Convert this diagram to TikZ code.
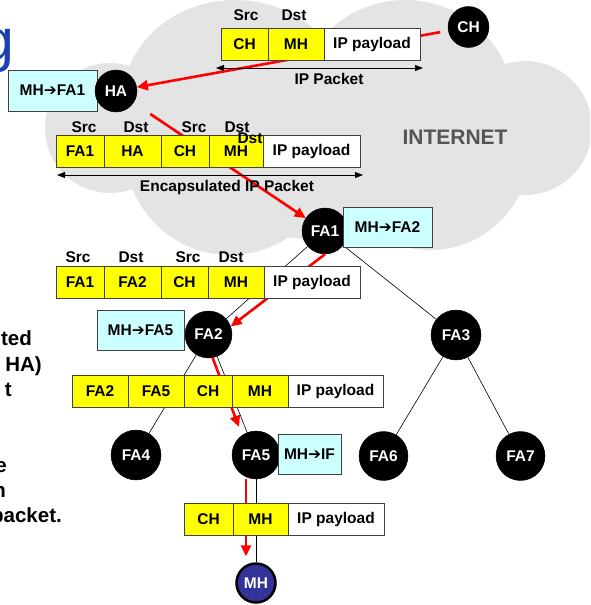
\documentclass[tikz,border=0pt]{standalone}
\usepackage{fontspec}
\setmainfont{Liberation Sans}
\newfontfamily\symfont{DejaVu Sans}
\usetikzlibrary{arrows.meta,calc}
\definecolor{cloudgray}{RGB}{228,228,228}
\definecolor{boxyellow}{RGB}{255,255,0}
\definecolor{boxcyan}{RGB}{204,255,255}
\definecolor{arrowred}{RGB}{255,0,0}
\definecolor{mhblue}{RGB}{51,51,153}
\definecolor{titleblue}{RGB}{28,64,176}
\definecolor{nettext}{RGB}{85,85,85}
\newcommand{\harr}{{\symfont\mdseries ➔}}
\tikzset{
  boxfont/.style={font=\bfseries\fontsize{15.5}{18}\selectfont},
  blob/.style={circle, fill=black, draw=black, text=white, inner sep=0pt, minimum size=46pt, boxfont},
  ybox/.style={draw=black!75, line width=0.75pt, fill=boxyellow, minimum height=32pt, inner sep=0pt, boxfont},
  wbox/.style={draw=black!75, line width=0.75pt, fill=white, minimum height=32pt, inner sep=0pt, boxfont},
  cbox/.style={draw=black!75, line width=0.75pt, fill=boxcyan, minimum height=40pt, inner sep=0pt, boxfont},
  lab/.style={inner sep=0pt, boxfont},
  tree/.style={draw=black, line width=0.6pt},
  redarrow/.style={draw=arrowred, line width=2.6pt, -{Triangle[length=11pt,width=10pt]}},
  dimarrow/.style={draw=black, line width=0.8pt, {Triangle[length=8pt,width=6pt]}-{Triangle[length=8pt,width=6pt]}},
  lefttext/.style={font=\bfseries\fontsize{20.5}{24}\selectfont, anchor=base east, inner sep=0pt}
}
\begin{document}
\begin{tikzpicture}[x=1pt,y=-1pt]
\useasboundingbox (0,0) rectangle (590,605);
\clip (0,0) rectangle (590,605);
% cloud
\fill[cloudgray] (110,128) circle (65pt);
\fill[cloudgray] (235,100) ellipse [x radius=112pt, y radius=100pt];
\fill[cloudgray] (405,110) ellipse [x radius=110pt, y radius=110pt];
\fill[cloudgray] (525,128) circle (67pt);
\fill[cloudgray] (430,150) circle (100pt);
\fill[cloudgray] (230,150) circle (105pt);
\fill[cloudgray] (330,140) ellipse [x radius=180pt, y radius=100pt];
% title fragment and side text
\node[anchor=base east, inner sep=0pt, text=titleblue, font=\fontsize{59}{66}\selectfont] (title) at (15,60) {g};
\node[lefttext] (t1) at (32,345) {ted};
\node[lefttext] (t2) at (42,371) {HA)};
\node[lefttext] (t3) at (12,396) {t};
\node[lefttext] (t4) at (7,472) {e};
\node[lefttext] (t5) at (6,497) {n};
\node[lefttext] (t6) at (62,522) {packet.};
% circles
\node[blob, minimum size=41pt] (CH) at (468.5,27) {CH};
\node[cbox, minimum width=89pt, minimum height=41pt] (r1) at (52.5,90.5) {MH\harr FA1};
\node[blob, minimum size=42pt] (HA) at (116,91) {HA};
\node[blob] (FA1) at (325,231) {FA1};
\node[blob, minimum size=47pt] (FA2) at (208.5,334.5) {FA2};
\node[blob, minimum size=50pt] (FA3) at (456,335) {FA3};
\node[blob, minimum size=50pt] (FA4) at (136,455) {FA4};
\node[blob, minimum size=48pt] (FA5) at (256,455) {FA5};
\node[blob, minimum size=49pt] (FA6) at (383.5,456) {FA6};
\node[blob, minimum size=49pt] (FA7) at (520.5,456) {FA7};
\node[circle, fill=mhblue, draw=black, line width=2.5pt, text=white, inner sep=0pt, minimum size=39pt, boxfont] (MH) at (256,583) {MH};
% tree
\draw[tree] (FA1) -- (FA2);
\draw[tree] (FA1) -- (FA3);
\draw[tree] (FA2) -- (FA4);
\draw[tree] (FA2) -- (FA5);
\draw[tree] (FA3) -- (FA6);
\draw[tree] (FA3) -- (FA7);
\draw[tree] (FA5) -- (MH);
% red path
\draw[redarrow, shorten <=8pt] (CH) -- (HA);
\draw[redarrow, shorten <=20pt] (HA) -- (FA1);
\draw[redarrow] (FA1.south) -- (FA2.20);
\draw[redarrow, shorten >=9pt] (FA2.-80) -- (FA5.125);
\draw[redarrow, shorten >=6pt] ([xshift=-10pt]FA5.south) -- ([xshift=-10pt]MH.north);
% packet 1
\node[ybox, minimum width=47pt] (p1a) at (244.5,44) {CH};
\node[ybox, minimum width=56pt] (p1b) at (296,44) {MH};
\node[wbox, minimum width=96pt] (p1c) at (372,44) {IP payload};
\node[lab] (l1a) at (246,15) {Src};
\node[lab] (l1b) at (294,15) {Dst};
\coordinate (a1l) at (216,68);
\coordinate (a1r) at (423,68);
\draw[dimarrow] (a1l) -- (a1r);
\node[lab] (l1c) at (329,79) {IP Packet};
% packet 2
\node[ybox, minimum width=48pt] (p2a) at (80,151) {FA1};
\node[ybox, minimum width=57pt] (p2b) at (132.5,151) {HA};
\node[ybox, minimum width=48pt] (p2c) at (185,151) {CH};
\node[ybox, minimum width=54pt] (p2d) at (236,151) {MH};
\node[wbox, minimum width=97pt] (p2e) at (311.5,151) {IP payload};
\node[lab] (l2a) at (84,127) {Src};
\node[lab] (l2b) at (136,127) {Dst};
\node[lab] (l2c) at (194,127) {Src};
\node[lab] (l2d) at (237,127) {Dst};
\node[lab] (l2e) at (250,138) {Dst};
\coordinate (a2l) at (57,175);
\coordinate (a2r) at (363,175);
\draw[dimarrow] (a2l) -- (a2r);
\node[lab] (l2f) at (227,187) {Encapsulated IP Packet};
\node[text=nettext, inner sep=0pt, font=\bfseries\fontsize{21}{24}\selectfont] (net) at (455,137) {INTERNET};
% packet 3
\node[ybox, minimum width=48pt] (p3a) at (80,282) {FA1};
\node[ybox, minimum width=57pt] (p3b) at (132.5,282) {FA2};
\node[ybox, minimum width=47pt] (p3c) at (184.5,282) {CH};
\node[ybox, minimum width=56pt] (p3d) at (236,282) {MH};
\node[wbox, minimum width=96pt] (p3e) at (312,282) {IP payload};
\node[lab] (l3a) at (78,257) {Src};
\node[lab] (l3b) at (131,257) {Dst};
\node[lab] (l3c) at (188,257) {Src};
\node[lab] (l3d) at (231,257) {Dst};
% packet 4
\node[ybox, minimum width=56pt] (p4a) at (100,391) {FA2};
\node[ybox, minimum width=56pt] (p4b) at (156,391) {FA5};
\node[ybox, minimum width=48pt] (p4c) at (208,391) {CH};
\node[ybox, minimum width=56pt] (p4d) at (260,391) {MH};
\node[wbox, minimum width=95pt] (p4e) at (335.5,391) {IP payload};
% packet 5
\node[ybox, minimum width=49pt] (p5a) at (208.5,519) {CH};
\node[ybox, minimum width=55pt] (p5b) at (260.5,519) {MH};
\node[wbox, minimum width=96pt] (p5c) at (336,519) {IP payload};
% routing boxes
\node[cbox, minimum width=89pt] (r2) at (387.5,227) {MH\harr FA2};
\node[cbox, minimum width=87pt] (r3) at (140.5,330) {MH\harr FA5};
\node[cbox, minimum width=63pt] (r4) at (309.5,454) {MH\harr IF};
\end{tikzpicture}
\end{document}
